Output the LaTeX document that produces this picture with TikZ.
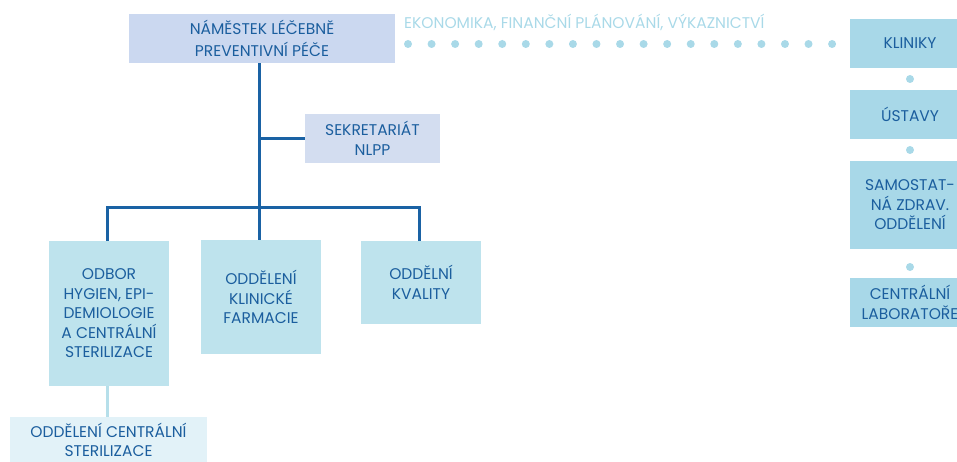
\documentclass[tikz,border=0pt]{standalone}
\usepackage{fontspec}
\setmainfont{Poppins}
\usepackage{tikz}
\usetikzlibrary{calc}
\definecolor{inkblue}{HTML}{1B5E9E}
\definecolor{linkblue}{HTML}{1A62A4}
\definecolor{paleline}{HTML}{B6DFEA}
\definecolor{headfill}{HTML}{CBD8F0}
\definecolor{sekrfill}{HTML}{D3DDF0}
\definecolor{unitfill}{HTML}{BEE3ED}
\definecolor{sidefill}{HTML}{A8D8E8}
\definecolor{subfill}{HTML}{E2F2F8}
\definecolor{dotblue}{HTML}{A9D9E8}

\tikzset{
  box/.style={inner sep=0pt, align=center, text=inkblue,
    font=\fontsize{15.5}{19.5}\selectfont},
  link/.style={linkblue, line width=3pt},
}

\begin{document}
\begin{tikzpicture}[x=1pt,y=-1pt]
  \useasboundingbox (0,0) rectangle (957,462);

  \node [box,fill=headfill,minimum width=266pt,minimum height=49pt,
    font=\fontsize{15.5}{22}\selectfont] (nlpp) at (262,38.5)
    {NÁMĚSTEK LÉČEBNĚ\\PREVENTIVNÍ PÉČE};
  \node [box,fill=sekrfill,minimum width=135pt,minimum height=49pt] (sekr) at (372.5,138.5)
    {SEKRETARIÁT\\NLPP};

  \node [box,fill=unitfill,minimum width=120pt,minimum height=145pt] (odbor) at (109,313.5)
    {ODBOR\\HYGIEN, EPI-\\DEMIOLOGIE\\A CENTRÁLNÍ\\STERILIZACE};
  \node [box,fill=unitfill,minimum width=120pt,minimum height=114pt] (farm) at (261,297)
    {ODDĚLENÍ\\KLINICKÉ\\FARMACIE};
  \node [box,fill=unitfill,minimum width=120pt,minimum height=83pt] (kval) at (421,282.5)
    {ODDĚLNÍ\\KVALITY};
  \node [box,fill=subfill,minimum width=197pt,minimum height=46pt] (ster) at (108.5,440)
    {ODDĚLENÍ CENTRÁLNÍ\\STERILIZACE};

  \node [box,fill=sidefill,minimum width=120pt,minimum height=49pt] (klin) at (910,43.5) {KLINIKY};
  \node [box,fill=sidefill,minimum width=120pt,minimum height=49pt] (ust) at (910,114.5) {ÚSTAVY};
  \node [box,fill=sidefill,minimum width=120pt,minimum height=88pt] (samo) at (910,205)
    {SAMOSTAT-\\NÁ ZDRAV.\\ODDĚLENÍ};
  \node [box,fill=sidefill,minimum width=120pt,minimum height=49pt] (lab) at (910,302.5)
    {CENTRÁLNÍ\\LABORATOŘE};

  \node [box,text=dotblue,anchor=west] (eko) at (404,22)
    {EKONOMIKA, FINANČNÍ PLÁNOVÁNÍ, VÝKAZNICTVÍ};

  \coordinate (bar) at (259,208);
  \draw[link] (nlpp.south -| bar) -- (bar);
  \draw[link] (sekr.west) -- (sekr.west -| bar);
  \draw[link] (odbor.north -| 107,0) |- (bar) -| (kval.north -| 419,0);
  \draw[link] (bar) -- (farm.north -| bar);
  \draw[paleline, line width=3pt] (odbor.south -| 107,0) -- (ster.north -| 107,0);

  % dotted link to the clinics
  \foreach \i in {0,...,18}
    \fill[dotblue] (408+\i*23.56,44) circle (4pt);
  \fill[dotblue] ($(klin.south)!0.5!(ust.north)$) circle (4pt);
  \fill[dotblue] ($(ust.south)!0.5!(samo.north)$) circle (4pt);
  \fill[dotblue] (910,267) circle (4pt);
\end{tikzpicture}
\end{document}
